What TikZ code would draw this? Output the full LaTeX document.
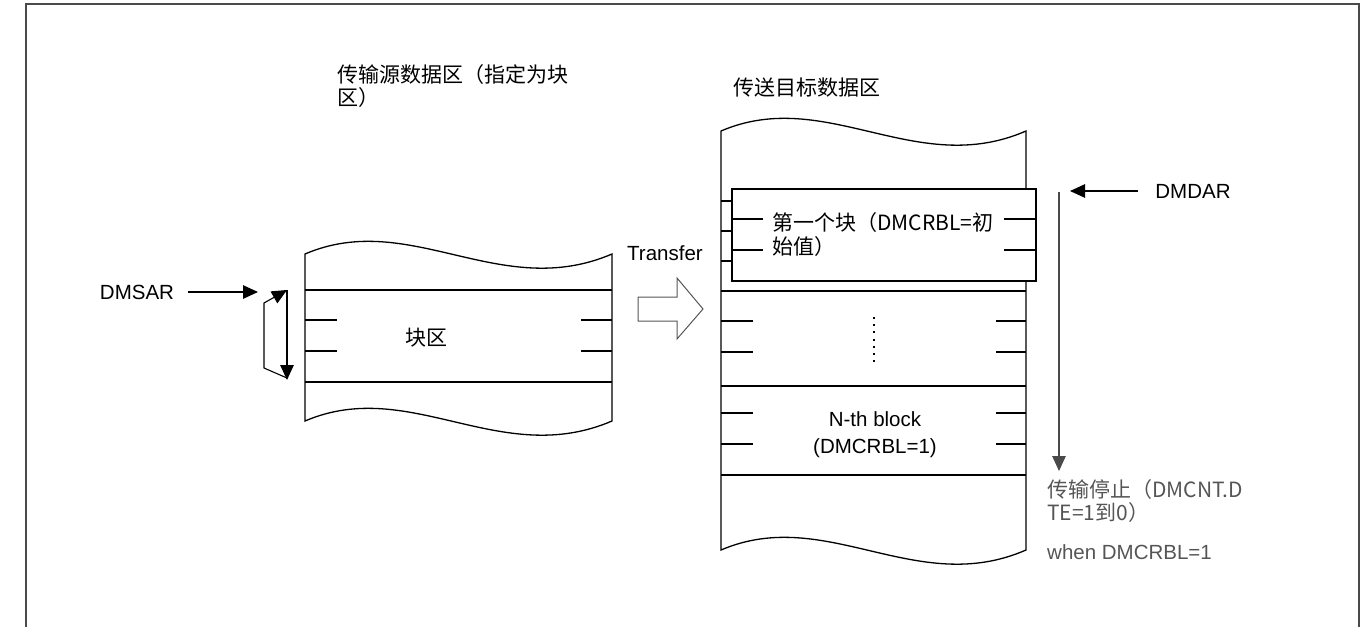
\documentclass[tikz,border=0pt]{standalone}
\usepackage{fontspec}
\newfontfamily\cjkf{Noto Sans CJK SC}
\newfontfamily\arialf{Liberation Sans}
\usetikzlibrary{arrows.meta}
\definecolor{framegray}{HTML}{4A4A4A}
\definecolor{txtgray}{HTML}{555555}
\tikzset{
  blk/.style={line width=1.3pt, black},
  tipped/.style={line width=1.1pt, -{Triangle[length=15pt,width=13.5pt]}},
  cjklabel/.style={inner sep=0pt, font=\cjkf\fontsize{21}{22.5}\selectfont, align=left},
  latlabel/.style={inner sep=0pt, font=\arialf\fontsize{20.5}{27}\selectfont},
}
\begin{document}
\begin{tikzpicture}[x=1pt,y=-1pt]
\useasboundingbox (0,0) rectangle (1370,627);
% outer frame
\draw[framegray, line width=1.5pt] (26,627) -- (26,4) -- (1359,4) -- (1359,627);

% ---------- source block ----------
\draw[blk] (305,254) .. controls (410,209) and (500,302) .. (612,254)
  -- (612,421) .. controls (500,469) and (410,376) .. (305,421) -- cycle;
\draw[blk] (305,290) -- (612,290);
\draw[blk] (305,382) -- (612,382);
\foreach \yy in {320,351}{
  \draw[blk] (305,\yy) -- (337,\yy);
  \draw[blk] (581,\yy) -- (612,\yy);
}
\node[cjklabel] (srcblk) at (426,338) {块区};
\node[cjklabel, anchor=north west] (srctitle) at (337,64.5) {传输源数据区（指定为块\\区）};

% DMSAR
\node[latlabel] (dmsar) at (137,292) {DMSAR};
\coordinate (sartip) at (258,292);
\draw[tipped] (dmsar.east) ++(14,0) -- (sartip);
\coordinate (brtop) at (287,290);
\coordinate (brbot) at (287,380);
\coordinate (brbl) at (264,368);
\coordinate (brtl) at (264,303);
\draw[tipped] (brtop) -- (brbot);
\draw[tipped] (287,378) -- (brbl) -- (brtl) -- (brtop);

% ---------- transfer arrow ----------
\node[latlabel] (transfer) at (665,253) {Transfer};
\draw[txtgray, line width=1pt] (638,297) -- (677,297) -- (677,278) -- (703,309)
  -- (677,339) -- (677,321) -- (638,321) -- cycle;

% ---------- destination block ----------
\draw[blk] (721,131) .. controls (826,86) and (916,179) .. (1026,131)
  -- (1026,550) .. controls (916,598) and (826,505) .. (721,550) -- cycle;
\foreach \yy in {201,231,261}{
  \draw[blk] (721,\yy) -- (753,\yy);
}
\draw[blk] (721,291) -- (1026,291);
\draw[blk] (721,386) -- (1026,386);
\draw[blk] (721,475) -- (1026,475);
\foreach \yy in {321,352,413,444}{
  \draw[blk] (721,\yy) -- (753,\yy);
  \draw[blk] (996,\yy) -- (1026,\yy);
}
% first block overlay
\draw[blk, fill=white] (732,189) rectangle (1036,281);
\foreach \yy in {219,250}{
  \draw[blk] (732,\yy) -- (763,\yy);
  \draw[blk] (1004,\yy) -- (1036,\yy);
}
\node[cjklabel, anchor=north west, font=\cjkf\fontsize{21}{24}\selectfont] (firstblk) at (772,212.5) {第一个块（DMCRBL=初\\始值）};
% dots
\draw[black, line width=2pt, dash pattern=on 2pt off 5.2pt] (874,317) -- (874,366);
% N-th block
\node[latlabel, anchor=north, align=center] (nth) at (875,411.5) {N-th block\\(DMCRBL=1)};
\node[cjklabel, anchor=north west] (dsttitle) at (733,77.5) {传送目标数据区};

% DMDAR
\node[latlabel] (dmdar) at (1193,191) {DMDAR};
\coordinate (dartip) at (1070,191);
\draw[tipped] (dmdar.west) ++(-17,0) -- (dartip);
\coordinate (vtop) at (1059,192);
\coordinate (vbot) at (1059,471);
\draw[tipped, framegray] (vtop) -- (vbot);
\node[cjklabel, anchor=north west, text=txtgray] (stop) at (1047,479.5) {传输停止（DMCNT.D\\TE=1到0）};
\node[latlabel, anchor=base west, text=txtgray] (when) at (1047,559.5) {when DMCRBL=1};
\end{tikzpicture}
\end{document}
